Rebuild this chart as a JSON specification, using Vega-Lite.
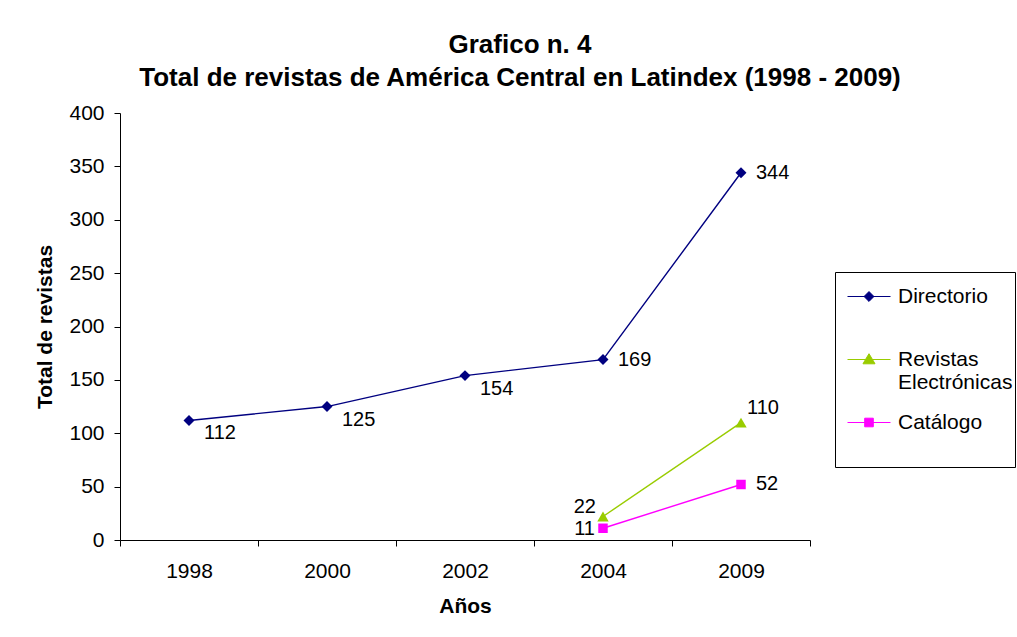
{
  "$schema": "https://vega.github.io/schema/vega-lite/v6.json",
  "autosize": "none",
  "width": 690,
  "height": 427,
  "padding": {"left": 120, "top": 113, "right": 207, "bottom": 97},
  "background": "white",
  "config": {
    "view": {"stroke": null},
    "font": "Liberation Sans",
    "axis": {"labelFont": "Liberation Sans", "titleFont": "Liberation Sans", "labelColor": "black", "titleColor": "black", "domainColor": "black", "tickColor": "black", "grid": false},
    "legend": {
      "orient": "none",
      "legendX": 715,
      "legendY": 159,
      "strokeColor": "black",
      "fillColor": "white",
      "padding": 2.5,
      "cornerRadius": 0,
      "symbolSize": 1849,
      "symbolOffset": 9.5,
      "symbolStrokeWidth": 1,
      "labelFontSize": 21,
      "labelFont": "Liberation Sans",
      "labelColor": "black",
      "labelOffset": 7,
      "labelLimit": 300,
      "rowPadding": 8,
      "titleFontSize": 10,
      "titlePadding": 22,
      "titleLimit": 1000,
      "titleOrient": "bottom"
    }
  },
  "title": {
    "text": ["Grafico n. 4", "Total de revistas de América Central en Latindex (1998 - 2009)"],
    "font": "Liberation Sans",
    "fontSize": 26,
    "fontWeight": "bold",
    "lineHeight": 33,
    "anchor": "middle",
    "dx": 55,
    "offset": 11,
    "color": "black"
  },
  "data": {
    "values": [
      {"anio": "1998", "serie": "Directorio", "valor": 112},
      {"anio": "2000", "serie": "Directorio", "valor": 125},
      {"anio": "2002", "serie": "Directorio", "valor": 154},
      {"anio": "2004", "serie": "Directorio", "valor": 169},
      {"anio": "2009", "serie": "Directorio", "valor": 344},
      {"anio": "2004", "serie": "Revistas Electrónicas", "valor": 22},
      {"anio": "2009", "serie": "Revistas Electrónicas", "valor": 110},
      {"anio": "2004", "serie": "Catálogo", "valor": 11},
      {"anio": "2009", "serie": "Catálogo", "valor": 52}
    ]
  },
  "encoding": {
    "x": {
      "field": "anio", "type": "ordinal", "sort": ["1998", "2000", "2002", "2004", "2009"],
      "scale": {"paddingInner": 0, "paddingOuter": 0},
      "axis": {"title": "Años", "labelAngle": 0, "labelFontSize": 21, "titleFontSize": 21, "titleFontWeight": "bold", "tickBand": "extent", "tickSize": 6, "labelPadding": 14, "titlePadding": 14, "domainWidth": 1, "tickWidth": 1}
    },
    "y": {
      "field": "valor", "type": "quantitative",
      "scale": {"domain": [0, 400], "nice": false},
      "axis": {"title": "Total de revistas", "values": [0, 50, 100, 150, 200, 250, 300, 350, 400], "labelFontSize": 21, "titleFontSize": 21, "titleFontWeight": "bold", "tickSize": 6, "labelPadding": 10, "titlePadding": 13, "domainWidth": 1, "tickWidth": 1}
    }
  },
  "layer": [
    {
      "mark": {"type": "line", "strokeWidth": 1.4},
      "encoding": {
        "color": {"field": "serie", "type": "nominal", "scale": {"domain": ["Directorio", "Revistas Electrónicas", "Catálogo"], "range": ["#000080", "#99CC00", "#FF00FF"]},
          "legend": {"title": "                                                                           ", "labelExpr": "datum.label == 'Revistas Electrónicas' ? ['', 'Revistas', 'Electrónicas'] : datum.label"}}
      }
    },
    {
      "transform": [{"filter": "datum.serie == 'Directorio'"}],
      "mark": {"type": "point", "shape": "diamond", "filled": true, "size": 120, "opacity": 1},
      "encoding": {"color": {"field": "serie", "type": "nominal", "legend": null}}
    },
    {
      "transform": [{"filter": "datum.serie == 'Revistas Electrónicas'"}],
      "mark": {"type": "point", "shape": "triangle-up", "filled": true, "size": 130, "opacity": 1},
      "encoding": {"color": {"field": "serie", "type": "nominal", "legend": null}}
    },
    {
      "transform": [{"filter": "datum.serie == 'Catálogo'"}],
      "mark": {"type": "point", "shape": "square", "filled": true, "size": 90, "opacity": 1},
      "encoding": {"color": {"field": "serie", "type": "nominal", "legend": null}}
    },
    {
      "mark": {"type": "point", "filled": true, "strokeWidth": 1, "fillOpacity": 0, "strokeOpacity": 0},
      "encoding": {
        "fill": {"field": "serie", "type": "nominal", "scale": {"domain": ["Directorio", "Revistas Electrónicas", "Catálogo"], "range": ["#000080", "#99CC00", "#FF00FF"]},
          "legend": {"title": "                                                                           ", "labelExpr": "datum.label == 'Revistas Electrónicas' ? ['', 'Revistas', 'Electrónicas'] : datum.label"}},
        "stroke": {"field": "serie", "type": "nominal", "scale": {"domain": ["Directorio", "Revistas Electrónicas", "Catálogo"], "range": ["#000080", "#99CC00", "#FF00FF"]},
          "legend": {"title": "                                                                           ", "labelExpr": "datum.label == 'Revistas Electrónicas' ? ['', 'Revistas', 'Electrónicas'] : datum.label"}},
        "shape": {"field": "serie", "type": "nominal", "scale": {"domain": ["Directorio", "Revistas Electrónicas", "Catálogo"], "range": ["M-1,0L1,0M0,-0.23L0.23,0L0,0.23L-0.23,0Z", "M-1,1.07L1,1.07M0,0.8L0.28,1.27L-0.28,1.27Z", "M-1,0L1,0M-0.2,-0.2L0.2,-0.2L0.2,0.2L-0.2,0.2Z"]},
          "legend": {"title": "                                                                           ", "labelExpr": "datum.label == 'Revistas Electrónicas' ? ['', 'Revistas', 'Electrónicas'] : datum.label"}
        }
      }
    },
    {
      "transform": [{"filter": "datum.serie == 'Directorio' && (datum.anio == '1998' || datum.anio == '2000' || datum.anio == '2002')"}],
      "mark": {"type": "text", "align": "left", "baseline": "middle", "dx": 15, "dy": 13, "fontSize": 20, "font": "Liberation Sans", "color": "black"},
      "encoding": {"text": {"field": "valor", "type": "quantitative"}}
    },
    {
      "transform": [{"filter": "(datum.serie == 'Directorio' && (datum.anio == '2004' || datum.anio == '2009')) || (datum.serie == 'Catálogo' && datum.anio == '2009')"}],
      "mark": {"type": "text", "align": "left", "baseline": "middle", "dx": 15, "dy": 0, "fontSize": 20, "font": "Liberation Sans", "color": "black"},
      "encoding": {"text": {"field": "valor", "type": "quantitative"}}
    },
    {
      "transform": [{"filter": "datum.serie == 'Revistas Electrónicas' && datum.anio == '2004'"}],
      "mark": {"type": "text", "align": "right", "baseline": "middle", "dx": -7, "dy": -10, "fontSize": 20, "font": "Liberation Sans", "color": "black"},
      "encoding": {"text": {"field": "valor", "type": "quantitative"}}
    },
    {
      "transform": [{"filter": "datum.serie == 'Catálogo' && datum.anio == '2004'"}],
      "mark": {"type": "text", "align": "right", "baseline": "middle", "dx": -8, "dy": 1, "fontSize": 20, "font": "Liberation Sans", "color": "black"},
      "encoding": {"text": {"field": "valor", "type": "quantitative"}}
    },
    {
      "transform": [{"filter": "datum.serie == 'Revistas Electrónicas' && datum.anio == '2009'"}],
      "mark": {"type": "text", "align": "left", "baseline": "middle", "dx": 6, "dy": -15, "fontSize": 20, "font": "Liberation Sans", "color": "black"},
      "encoding": {"text": {"field": "valor", "type": "quantitative"}}
    }
  ]
}
